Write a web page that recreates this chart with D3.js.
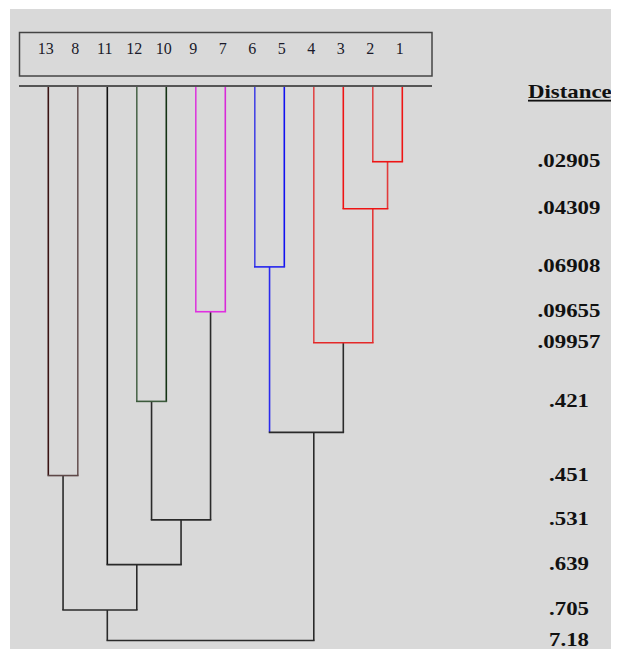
<!DOCTYPE html>
<html>
<head>
<meta charset="utf-8">
<script src="https://cdn.jsdelivr.net/npm/d3@7"></script>
<style>
body { margin:0; background:#fff; }
svg { display:block; }
</style>
</head>
<body>
<svg id="dendro" width="620" height="649"></svg>
<script>
// ordre des feuilles, de gauche a droite
var feuilles = ["13", "8", "11", "12", "10", "9", "7", "6", "5", "4", "3", "2", "1"];
// fusions : enfant gauche / enfant droit (feuille, ou "m" + indice de fusion)
var fusionGauche = ["2", "3", "6", "9", "4", "12", "m2", "13", "m5", "11", "m7", "m10"];
var fusionDroite = ["1", "m0", "5", "7", "m1", "10", "m4", "8", "m3", "m8", "m9", "m6"];
// niveau de chaque fusion sur le dessin (0 = haut, 100 = racine)
var niveaux = [13.5, 22.0, 32.5, 40.6, 46.2, 56.8, 62.4, 70.2, 78.2, 86.3, 94.5, 100];
// distance affichee a droite (la fusion m6 n'a pas d'etiquette)
var distances = [".02905", ".04309", ".06908", ".09655", ".09957", ".421", null, ".451", ".531", ".639", ".705", "7.18"];

// couleurs
var couleurFeuille = {"13": "#3a1414", "8": "#6a5656", "11": "#111", "12": "#4e684e", "10": "#143214",
    "9": "#dc3cdc", "7": "#d82ad8", "6": "#4646e4", "5": "#1212f0",
    "4": "#e04848", "3": "#ee1414", "2": "#e04848", "1": "#ee1414"};
var couleurBarre = ["#ee1414", "#ee1414", "#2424ee", "#e030e0", "#e42828", "#3c5a3c", "#2a2a2a", "#5e4848", "#2a2a2a", "#2a2a2a", "#2a2a2a", "#2a2a2a"];
var couleurTige = ["#e23a3a", "#e23a3a", "#2a2aee", "#2a2a2a", "#2a2a2a", "#2a2a2a", "#2a2a2a", "#2a2a2a", "#2a2a2a", "#2a2a2a", "#2a2a2a", "#2a2a2a"];

var largeur = 620, hauteur = 649;
var svg = d3.select("#dendro");

svg.append("rect").attr("width", largeur).attr("height", hauteur).attr("fill", "#fff");
svg.append("defs").append("clipPath").attr("id", "fond")
    .append("rect").attr("x", 10).attr("y", 9).attr("width", 601).attr("height", 640);
svg.append("rect").attr("x", 10).attr("y", 9).attr("width", 601).attr("height", 640).attr("fill", "#d9d9d9");

var xIdx = d3.scaleLinear().domain([0, feuilles.length - 1]).range([48.3, 402.3]);
var yScale = d3.scaleLinear().domain([0, 100]).range([87, 640.5]);

// position (en indice de feuille) de chaque noeud
function arrondiPair(v) {
    var r = Math.round(v);
    if (Math.abs(v - Math.floor(v) - 0.5) < 1e-9) r = (Math.floor(v) % 2 === 0) ? Math.floor(v) : Math.floor(v) + 1;
    return r;
}
var posFusion = [];
function pos(n) {
    if (n[0] === "m") return posFusion[+n.slice(1)];
    return feuilles.indexOf(n);
}
function haut(n) {
    if (n[0] === "m") return niveaux[+n.slice(1)];
    return 0;
}
function couleur(n) {
    if (n[0] === "m") return couleurTige[+n.slice(1)];
    return couleurFeuille[n];
}
niveaux.forEach(function(d, i) {
    var milieu = (pos(fusionGauche[i]) + pos(fusionDroite[i])) / 2;
    posFusion[i] = arrondiPair(milieu * 2) / 2;
});

// boite des numeros
svg.append("rect")
    .attr("x", 19.5).attr("y", 32.5).attr("width", 412.5).attr("height", 43.5)
    .attr("fill", "none").attr("stroke", "#444").attr("stroke-width", 1.5);

svg.append("g").selectAll("text")
    .data(feuilles)
    .enter()
    .append("text")
    .attr("x", function(d, i) { return xIdx(i) - 2.5; })
    .attr("y", 54)
    .attr("text-anchor", "middle")
    .style("font-family", "'Liberation Serif', 'Times New Roman', serif")
    .style("font-size", "16px")
    .style("fill", "#1a1a2a")
    .text(function(d) { return d; });

svg.append("line")
    .attr("x1", 19).attr("x2", 432).attr("y1", 86).attr("y2", 86)
    .attr("stroke", "#555").attr("stroke-width", 2);

// tiges verticales
var tiges = [];
niveaux.forEach(function(d, i) {
    [fusionGauche[i], fusionDroite[i]].forEach(function(c) {
        tiges.push({x: pos(c), y0: haut(c), y1: d, couleur: couleur(c)});
    });
});

svg.append("g").selectAll("line")
    .data(tiges)
    .enter()
    .append("line")
    .attr("x1", function(d) { return xIdx(d.x); })
    .attr("x2", function(d) { return xIdx(d.x); })
    .attr("y1", function(d) { return d.y0 === 0 ? 87 : yScale(d.y0); })
    .attr("y2", function(d) { return yScale(d.y1); })
    .attr("stroke", function(d) { return d.couleur; })
    .attr("stroke-width", 1.6);

// barres horizontales
svg.append("g").selectAll("line")
    .data(niveaux)
    .enter()
    .append("line")
    .attr("x1", function(d, i) { return xIdx(pos(fusionGauche[i])); })
    .attr("x2", function(d, i) { return xIdx(pos(fusionDroite[i])); })
    .attr("y1", function(d) { return yScale(d); })
    .attr("y2", function(d) { return yScale(d); })
    .attr("stroke", function(d, i) { return couleurBarre[i]; })
    .attr("stroke-width", 1.6)
    .attr("stroke-linecap", "square");

// etiquettes des distances
var etiq = svg.append("g").attr("clip-path", "url(#fond)");

etiq.append("text")
    .attr("transform", "translate(528, 98) scale(1.27, 1)")
    .style("font-family", "'Liberation Serif', 'Times New Roman', serif")
    .style("font-size", "18px")
    .style("font-weight", "bold")
    .style("text-decoration", "underline")
    .style("fill", "#111")
    .text("Distance");

etiq.selectAll(".dist")
    .data(niveaux.map(function(d, i) { return {niveau: d, texte: distances[i]}; }).filter(function(d) { return d.texte; }))
    .enter()
    .append("text")
    .attr("class", "dist")
    .attr("transform", function(d) { return `translate(569, ${yScale(d.niveau)}) scale(1.27, 1)`; })
    .attr("text-anchor", "middle")
    .attr("dy", "0.3em")
    .style("font-family", "'Liberation Serif', 'Times New Roman', serif")
    .style("font-size", "18px")
    .style("font-weight", "bold")
    .style("fill", "#111")
    .text(function(d) { return d.texte; });
</script>
</body>
</html>
